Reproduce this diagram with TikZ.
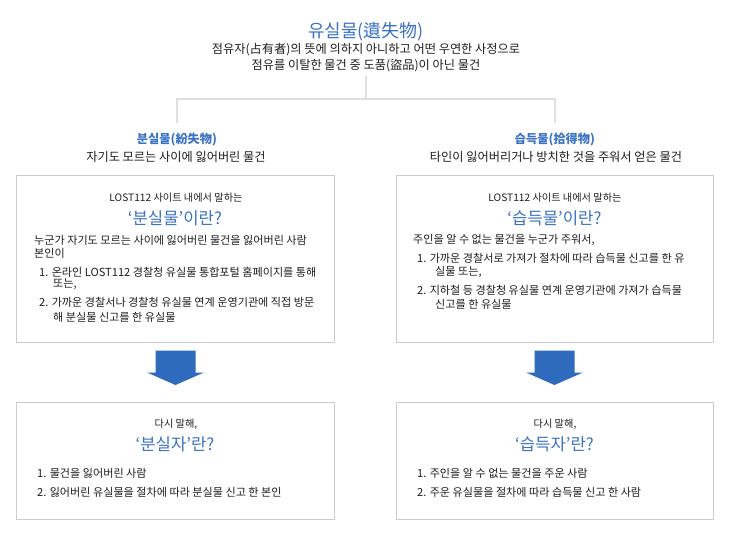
\documentclass[tikz,border=0pt]{standalone}
\usepackage{fontspec}
\setmainfont{Noto Sans CJK KR}
\usetikzlibrary{positioning}
\definecolor{titleblue}{HTML}{3B73C4}
\definecolor{arrowblue}{HTML}{2E6BBD}
\definecolor{boxgray}{HTML}{CCCCCC}
\definecolor{linegray}{HTML}{E0E0E0}
\definecolor{textdark}{HTML}{1E1E1E}

\begin{document}
\begin{tikzpicture}[
    x=1bp, y=-1bp,
    heading/.style={font=\fontsize{18bp}{20bp}\selectfont, text=titleblue, inner sep=0},
    note/.style={font=\fontsize{12.2bp}{16bp}\selectfont, text=textdark, align=center},
    subhead/.style={font=\bfseries\fontsize{12.2bp}{14bp}\selectfont, text=titleblue, inner sep=0},
    infobox/.style={rectangle, draw=boxgray, line width=1bp, fill=white, minimum width=317bp, inner sep=0},
    small/.style={font=\fontsize{10.2bp}{12bp}\selectfont, text=textdark, inner sep=0},
    question/.style={font=\fontsize{16.7bp}{18bp}\selectfont, text=titleblue, inner sep=0},
    line/.style={font=\fontsize{11.1bp}{13bp}\selectfont, text=textdark, anchor=west, inner sep=0},
    downarrow/.pic={
        \fill[arrowblue] (-20,8) -- (20,8) -- (20,30) -- (28.5,30) -- (0,42.5)
            -- (-28.5,30) -- (-20,30) -- cycle;
    },
    link/.style={draw=linegray, line width=1.2bp}
]
\useasboundingbox[fill=white] (0,0) rectangle (745,536);

% top
\node[heading] (title) at (366,32) {유실물(遺失物)};
\node[note] (def) at (366,58) {점유자(占有者)의 뜻에 의하지 아니하고 어떤 우연한 사정으로\\점유를 이탈한 물건 중 도품(盜品)이 아닌 물건};

\node[subhead] (lost) at (177,140) {분실물(紛失物)};
\node[note, inner sep=0] (lostdef) at (176,157) {자기도 모르는 사이에 잃어버린 물건};
\node[subhead] (found) at (555,140) {습득물(拾得物)};
\node[note, inner sep=0] (founddef) at (556,157) {타인이 잃어버리거나 방치한 것을 주워서 얻은 물건};

\coordinate (split) at (366,99);
\draw[link] (def.south) -- (split);
\draw[link] ([yshift=10bp]lost.north) |- (split) -| ([yshift=10bp]found.north);

% upper boxes
\node[infobox, minimum height=166bp] (lostbox) at (175.5,259) {};
\node[infobox, minimum height=166bp] (foundbox) at (554.5,259) {};

\node[small] (lostsite) at (176,198) {LOST112 사이트 내에서 말하는};
\node[question] (lostq) at (175,218) {‘분실물’이란?};
\node[line] (l1) at (34,240) {누군가 자기도 모르는 사이에 잃어버린 물건을 잃어버린 사람};
\node[line] (l2) at (34,253) {본인이};
\node[line] (l3) at (39,272) {1. 온라인 LOST112 경찰청 유실물 통합포털 홈페이지를 통해};
\node[line] (l4) at (53,284) {또는,};
\node[line] (l5) at (39,302) {2. 가까운 경찰서나 경찰청 유실물 연계 운영기관에 직접 방문};
\node[line] (l6) at (53,317) {해 분실물 신고를 한 유실물};

\node[small] (foundsite) at (555,198) {LOST112 사이트 내에서 말하는};
\node[question] (foundq) at (554.5,218) {‘습득물’이란?};
\node[line] (r1) at (413,240) {주인을 알 수 없는 물건을 누군가 주워서,};
\node[line] (r2) at (417,258) {1. 가까운 경찰서로 가져가 절차에 따라 습득물 신고를 한 유};
\node[line] (r3) at (435,272) {실물 또는,};
\node[line] (r4) at (417,290.5) {2. 지하철 등 경찰청 유실물 연계 운영기관에 가져가 습득물};
\node[line] (r5) at (435,304) {신고를 한 유실물};

% arrows
\pic at (lostbox.south) {downarrow};
\pic at (foundbox.south) {downarrow};

% lower boxes
\node[infobox, minimum height=117bp] (loserbox) at (175.5,460.5) {};
\node[infobox, minimum height=117bp] (finderbox) at (554.5,460.5) {};

\node[small] (loseragain) at (176,424) {다시 말해,};
\node[question] (loserq) at (175,444) {‘분실자’란?};
\node[line] (a1) at (37,473) {1. 물건을 잃어버린 사람};
\node[line] (a2) at (37,492) {2. 잃어버린 유실물을 절차에 따라 분실물 신고 한 본인};

\node[small] (finderagain) at (555,424) {다시 말해,};
\node[question] (finderq) at (554.5,444) {‘습득자’란?};
\node[line] (b1) at (417,473) {1. 주인을 알 수 없는 물건을 주운 사람};
\node[line] (b2) at (417,492) {2. 주운 유실물을 절차에 따라 습득물 신고 한 사람};

\end{tikzpicture}
\end{document}
